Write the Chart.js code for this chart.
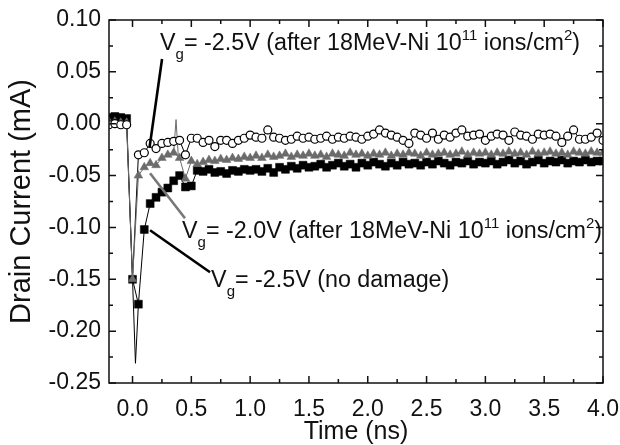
<!DOCTYPE html>
<html><head><meta charset="utf-8">
<script src="https://cdn.jsdelivr.net/npm/chart.js@4.4.0/dist/chart.umd.min.js"></script>
<style>html,body{margin:0;padding:0;background:#fff;}#wrap{width:620px;height:445px;}</style>
</head><body><div id="wrap"><canvas id="c" width="620" height="445"></canvas></div>
<script>
// ---- data ----
const times = [-0.2,-0.15,-0.1,-0.05,0,0.05,0.1,0.15,0.2,0.25,0.3,0.35,0.4,0.45,0.5,0.55,0.6,0.65,0.7,0.75,0.8,0.85,0.9,0.95,1.0,
  1.05,1.1,1.15,1.2,1.25,1.3,1.35,1.4,1.45,1.5,1.55,1.6,1.65,1.7,1.75,1.8,1.85,1.9,1.95,2.0,
  2.05,2.1,2.15,2.2,2.25,2.3,2.35,2.4,2.45,2.5,2.55,2.6,2.65,2.7,2.75,2.8,2.85,2.9,2.95,3.0,
  3.05,3.1,3.15,3.2,3.25,3.3,3.35,3.4,3.45,3.5,3.55,3.6,3.65,3.7,3.75,3.8,3.85,3.9,3.95,4.0];
const noDamage = [0.006,0.007,0.006,0.005,
  -0.150,-0.174,-0.102,-0.077,-0.071,-0.066,-0.062,-0.055,-0.050,-0.061,-0.060,-0.045,-0.046,-0.044,-0.047,-0.046,-0.048,-0.045,-0.046,-0.044,-0.045,
  -0.044,-0.046,-0.043,-0.047,-0.042,-0.044,-0.041,-0.043,-0.040,-0.042,-0.041,-0.039,-0.042,-0.040,-0.038,-0.041,-0.039,-0.042,-0.038,-0.040,
  -0.037,-0.039,-0.041,-0.038,-0.040,-0.037,-0.039,-0.038,-0.040,-0.037,-0.039,-0.036,-0.038,-0.040,-0.037,-0.038,-0.036,-0.039,-0.037,-0.038,
  -0.036,-0.039,-0.037,-0.035,-0.038,-0.036,-0.039,-0.037,-0.035,-0.038,-0.036,-0.037,-0.035,-0.038,-0.036,-0.037,-0.035,-0.037,-0.036,-0.036];
const after20V = [0.002,0.002,0.001,0.001,
  -0.150,-0.050,-0.042,-0.038,-0.040,-0.033,-0.030,-0.028,-0.033,-0.053,-0.036,-0.039,-0.037,-0.035,-0.036,-0.034,-0.035,-0.033,-0.034,-0.032,-0.033,
  -0.031,-0.033,-0.030,-0.032,-0.031,-0.029,-0.032,-0.030,-0.031,-0.029,-0.031,-0.030,-0.032,-0.029,-0.030,-0.031,-0.028,-0.030,-0.029,-0.031,
  -0.029,-0.030,-0.028,-0.031,-0.029,-0.030,-0.028,-0.029,-0.031,-0.028,-0.030,-0.029,-0.028,-0.030,-0.029,-0.027,-0.030,-0.028,-0.029,-0.028,
  -0.030,-0.028,-0.029,-0.027,-0.029,-0.028,-0.030,-0.027,-0.029,-0.028,-0.027,-0.029,-0.028,-0.030,-0.027,-0.028,-0.029,-0.027,-0.028,-0.028];
// the marker at t = 0 is hidden under the square; its fast drop is drawn by after25Drop
const after25V = [-0.001,0.000,-0.001,-0.001,
  null,-0.030,-0.028,-0.019,-0.024,-0.019,-0.018,-0.017,-0.016,-0.030,-0.014,-0.014,-0.018,-0.016,-0.022,-0.016,-0.016,-0.019,-0.016,-0.014,-0.011,
  -0.013,-0.014,-0.006,-0.013,-0.014,-0.016,-0.015,-0.012,-0.014,-0.013,-0.015,-0.014,-0.012,-0.015,-0.013,-0.014,-0.012,-0.013,-0.015,-0.012,
  -0.010,-0.006,-0.009,-0.011,-0.013,-0.016,-0.019,-0.009,-0.011,-0.014,-0.009,-0.015,-0.011,-0.013,-0.009,-0.006,-0.012,-0.011,-0.010,-0.016,
  -0.012,-0.010,-0.011,-0.016,-0.008,-0.011,-0.012,-0.015,-0.010,-0.011,-0.010,-0.012,-0.018,-0.012,-0.006,-0.015,-0.015,-0.013,-0.009,-0.016];
const after25DropTimes = [-0.05, 0, 0.05];
const after25DropValues = [-0.001, -0.150, -0.030];
// fast transient of the no-damage trace (line only, between markers)
const spikeTimes = [0, 0.025, 0.05];
const spikeValues = [-0.150, -0.231, -0.174];
// glitch in the -2.0V trace
const glitchTimes = [0.35, 0.37, 0.39];
const glitchValues = [-0.028, 0.004, -0.033];

const xTickValues = [0,0.5,1.0,1.5,2.0,2.5,3.0,3.5,4.0];
const xTickLabels = ['0.0','0.5','1.0','1.5','2.0','2.5','3.0','3.5','4.0'];
const xMinorValues = [0.25,0.75,1.25,1.75,2.25,2.75,3.25,3.75];
const yTickValues = [0.10,0.05,0.00,-0.05,-0.10,-0.15,-0.20,-0.25];
const yTickLabels = ['0.10','0.05','0.00','-0.05','-0.10','-0.15','-0.20','-0.25'];
const yMinorValues = [0.075,0.025,-0.025,-0.075,-0.125,-0.175,-0.225];

const xTitle = 'Time (ns)';
const yTitle = 'Drain Current (mA)';

const notes = [
  {line:'#000', from:[0.145,-0.0226], to:[0.251,0.0624], at:[0.234,0.0711],
   parts:[['V'],['g','sub'],['= -2.5V (after 18MeV-Ni 10'],['11','sup'],[' ions/cm'],['2','sup'],[')']]},
  {line:'#777', from:[0.149,-0.0477], to:[0.446,-0.0911], at:[0.421,-0.1104],
   parts:[['V'],['g','sub'],['= -2.0V (after 18MeV-Ni 10'],['11','sup'],[' ions/cm'],['2','sup'],[')']]},
  {line:'#000', from:[0.149,-0.1027], to:[0.659,-0.1432], at:[0.668,-0.1577],
   parts:[['V'],['g','sub'],['= -2.5V (no damage)']]}
];

// ---- styling ----
const AXFONT = "'Liberation Sans', Arial, sans-serif";
const GRAY = '#6b6b6b';

const pts = (xs, ys) => xs.map((t, i) => ({x: t, y: ys[i]}));

const framePlugin = {
  id: 'frame',
  afterDatasetsDraw(chart) {
    const {ctx, chartArea: a, scales: {x, y}} = chart;
    ctx.save();
    ctx.strokeStyle = '#111';
    ctx.lineWidth = 1.5;
    ctx.beginPath();
    const seg = (x1, y1, x2, y2) => { ctx.moveTo(x1, y1); ctx.lineTo(x2, y2); };
    xTickValues.forEach(v => { const p = x.getPixelForValue(v); seg(p, a.bottom, p, a.bottom - 7); seg(p, a.top, p, a.top + 7); });
    xMinorValues.forEach(v => { const p = x.getPixelForValue(v); seg(p, a.bottom, p, a.bottom - 4); seg(p, a.top, p, a.top + 4); });
    yTickValues.forEach(v => { const p = y.getPixelForValue(v); seg(a.left, p, a.left + 7, p); seg(a.right, p, a.right - 7, p); });
    yMinorValues.forEach(v => { const p = y.getPixelForValue(v); seg(a.left, p, a.left + 4, p); seg(a.right, p, a.right - 4, p); });
    ctx.stroke();
    ctx.strokeRect(a.left, a.top, a.right - a.left, a.bottom - a.top);
    ctx.restore();
  }
};

const notePlugin = {
  id: 'notes',
  afterDraw(chart) {
    const {ctx, scales: {x, y}} = chart;
    ctx.save();
    notes.forEach(n => {
      ctx.strokeStyle = n.line;
      ctx.lineWidth = 2.6;
      ctx.beginPath();
      ctx.moveTo(x.getPixelForValue(n.from[0]), y.getPixelForValue(n.from[1]));
      ctx.lineTo(x.getPixelForValue(n.to[0]), y.getPixelForValue(n.to[1]));
      ctx.stroke();
      let px = x.getPixelForValue(n.at[0]);
      const base = y.getPixelForValue(n.at[1]);
      ctx.fillStyle = '#111';
      ctx.textBaseline = 'alphabetic';
      ctx.textAlign = 'left';
      n.parts.forEach(([txt, kind]) => {
        let off = 0;
        if (kind === 'sub') { ctx.font = '15px ' + AXFONT; off = 9; }
        else if (kind === 'sup') { ctx.font = '15px ' + AXFONT; off = -10; }
        else { ctx.font = '23.3px ' + AXFONT; }
        ctx.fillText(txt, px, base + off);
        px += ctx.measureText(txt).width;
      });
    });
    ctx.restore();
  }
};

new Chart(document.getElementById('c'), {
  type: 'scatter',
  data: {
    datasets: [
      {label: 'after -2.5V', data: pts(times, after25V), showLine: true, spanGaps: false, borderColor: '#000', borderWidth: 1,
       pointStyle: 'circle', pointRadius: 4, pointBackgroundColor: '#fff', pointBorderColor: '#000', pointBorderWidth: 1.2, order: 1},
      {label: 'after -2.5V drop', data: pts(after25DropTimes, after25DropValues), showLine: true, borderColor: '#000', borderWidth: 1, pointRadius: 0, order: 6},
      {label: 'after -2.0V', data: pts(times, after20V), showLine: true, borderColor: GRAY, borderWidth: 1,
       pointStyle: 'triangle', pointRadius: 5, pointBackgroundColor: GRAY, pointBorderColor: GRAY, pointBorderWidth: 0.5, order: 2},
      {label: 'glitch', data: pts(glitchTimes, glitchValues), showLine: true, borderColor: GRAY, borderWidth: 1, pointRadius: 0, order: 3},
      {label: 'no damage', data: pts(times, noDamage), showLine: true, borderColor: '#000', borderWidth: 1,
       pointStyle: 'rect', pointRadius: 5.6, pointBackgroundColor: '#000', pointBorderColor: '#000', pointBorderWidth: 0.5, order: 4},
      {label: 'spike', data: pts(spikeTimes, spikeValues), showLine: true, borderColor: '#000', borderWidth: 1, pointRadius: 0, order: 5}
    ]
  },
  options: {
    responsive: false, animation: false, devicePixelRatio: 1,
    layout: {padding: {left: 0, right: 17, top: 20, bottom: 0}},
    plugins: {legend: {display: false}, tooltip: {enabled: false}},
    scales: {
      x: {
        type: 'linear', min: -0.2, max: 4.0,
        grid: {display: false, drawTicks: false}, border: {display: false},
        afterBuildTicks: s => { s.ticks = xTickValues.map(v => ({value: v})); },
        afterFit: s => { s.height = 62; s.paddingLeft = 0; s.paddingRight = 0; },
        ticks: {padding: 13, color: '#111', font: {family: AXFONT, size: 23},
                callback: v => xTickLabels[xTickValues.indexOf(v)], maxRotation: 0},
        title: {display: true, text: xTitle, color: '#111', font: {family: AXFONT, size: 25, lineHeight: 1}, padding: {top: 0, bottom: 0}}
      },
      y: {
        type: 'linear', min: -0.25, max: 0.10,
        grid: {display: false, drawTicks: false}, border: {display: false},
        afterBuildTicks: s => { s.ticks = yTickValues.map(v => ({value: v})); },
        afterFit: s => { s.width = 109; s.paddingTop = 0; s.paddingBottom = 0; },
        ticks: {padding: 8, color: '#111', font: {family: AXFONT, size: 23},
                callback: v => yTickLabels[yTickValues.indexOf(v)]},
        title: {display: true, text: yTitle, color: '#111', font: {family: AXFONT, size: 29, lineHeight: 1}, padding: {top: 7, bottom: 0}}
      }
    }
  },
  plugins: [framePlugin, notePlugin]
});
</script></body></html>
